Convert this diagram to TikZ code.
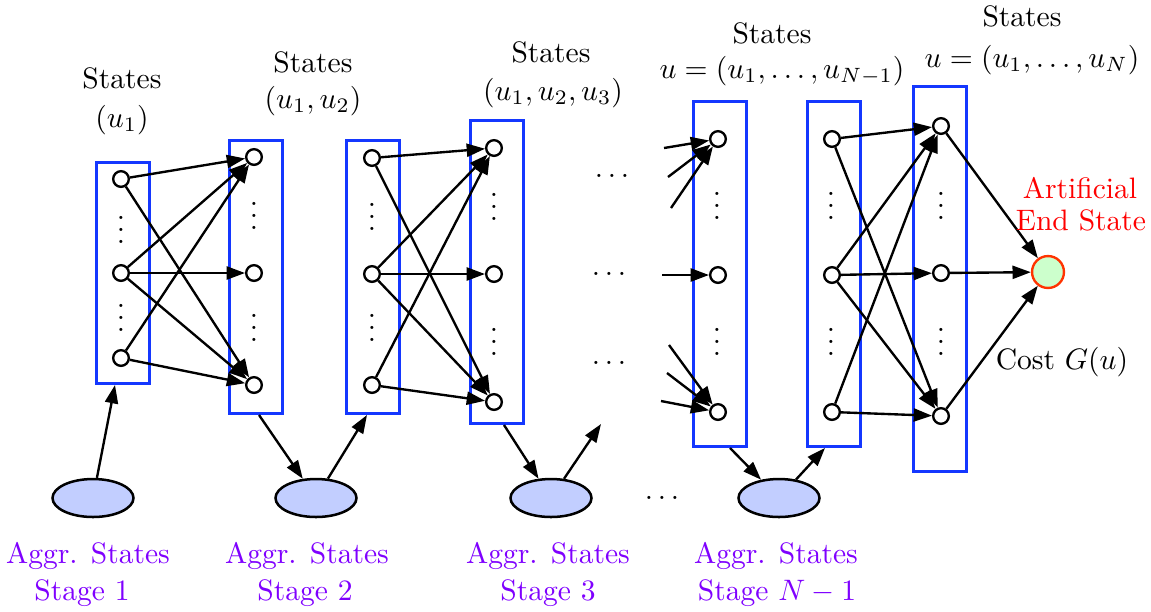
\documentclass[tikz,border=0pt]{standalone}
\usetikzlibrary{arrows.meta,shapes.geometric,calc}
\definecolor{boxblue}{RGB}{20,55,255}
\definecolor{aggrfill}{RGB}{194,206,255}
\definecolor{aggrtext}{RGB}{127,0,255}
\definecolor{endfill}{RGB}{204,255,204}
\definecolor{endline}{RGB}{255,51,0}
\newcommand\myvd{\vbox{\baselineskip=4pt\lineskiplimit=0pt\hbox{.}\hbox{.}\hbox{.}}}
\begin{document}
\begin{tikzpicture}[x=0.3382pt,y=-0.3382pt,
  st/.style={circle,draw,line width=0.8pt,minimum size=5.3pt,inner sep=0pt,fill=white},
  sbox/.style={draw=boxblue,line width=1pt,minimum width=17.9pt,inner sep=0pt},
  agg/.style={ellipse,draw,line width=0.85pt,fill=aggrfill,minimum width=27.4pt,minimum height=12.85pt,inner sep=0pt},
  arr/.style={-{Triangle[length=6.2pt,width=4.4pt]},line width=0.8pt},
  txt/.style={inner sep=0pt,anchor=base},
  dts/.style={inner sep=0pt}]
\useasboundingbox (0,0) rectangle (1151,611);
% boxes
\node[sbox,minimum height=74.74pt] (b1) at (123,273) {};
\node[sbox,minimum height=92.33pt] (b2) at (256,277) {};
\node[sbox,minimum height=92.33pt] (b3) at (373,277) {};
\node[sbox,minimum height=102.47pt] (b4) at (497,272) {};
\node[sbox,minimum height=116.68pt] (b5) at (720,274) {};
\node[sbox,minimum height=116.68pt] (b6) at (834,274) {};
\node[sbox,minimum height=130.2pt] (b7) at (940,279) {};
% state nodes
\node[st] (n1-a) at (121,179) {};
\node[st] (n1-b) at (121,273) {};
\node[st] (n1-c) at (121,358) {};
\node[st] (n2-a) at (254,157) {};
\node[st] (n2-b) at (254,273) {};
\node[st] (n2-c) at (254,385) {};
\node[st] (n3-a) at (372,158) {};
\node[st] (n3-b) at (372,274) {};
\node[st] (n3-c) at (372,385) {};
\node[st] (n4-a) at (494,148) {};
\node[st] (n4-b) at (494,274) {};
\node[st] (n4-c) at (494,402) {};
\node[st] (n5-a) at (718,139) {};
\node[st] (n5-b) at (718,275) {};
\node[st] (n5-c) at (718,412) {};
\node[st] (n6-a) at (832,139) {};
\node[st] (n6-b) at (832,275) {};
\node[st] (n6-c) at (832,412) {};
\node[st] (n7-a) at (941,126) {};
\node[st] (n7-b) at (941,273) {};
\node[st] (n7-c) at (941,416) {};
\node[circle,draw=endline,fill=endfill,line width=0.8pt,minimum size=10.8pt,inner sep=0pt] (end) at (1048,272) {};
% vertical dots
\foreach \x/\ya/\yb [count=\i] in {121/230/318,254/216/328,372/217/328,494/207/342,717/206/342,831/206/342,941/206/342}{
  \node[dts] (vd\i-a) at (\x,\ya) {\myvd};
  \node[dts] (vd\i-b) at (\x,\yb) {\myvd};
}
% edges between stages
\foreach \s/\t in {1/2,3/4,6/7}{
  \draw[arr] (n\s-a) -- (n\t-a);
  \draw[arr] (n\s-a) -- (n\t-c);
  \draw[arr] (n\s-b) -- (n\t-a);
  \draw[arr] (n\s-b) -- (n\t-b);
  \draw[arr] (n\s-b) -- (n\t-c);
  \draw[arr] (n\s-c) -- (n\t-a);
  \draw[arr] (n\s-c) -- (n\t-c);
}
\draw[arr] (n7-a) -- (end);
\draw[arr] (n7-b) -- (end);
\draw[arr] (n7-c) -- (end);
% incoming free arrows to stage N-1
\coordinate (f1) at (664,148);
\coordinate (f2) at (668,177);
\coordinate (f3) at (671,208);
\coordinate (f4) at (662,275);
\coordinate (f5) at (669,345);
\coordinate (f6) at (667,373);
\coordinate (f7) at (661,401);
\draw[arr] (f1) -- (n5-a);
\draw[arr] (f2) -- (n5-a);
\draw[arr] (f3) -- (n5-a);
\draw[arr] (f4) -- (n5-b);
\draw[arr] (f5) -- (n5-c);
\draw[arr] (f6) -- (n5-c);
\draw[arr] (f7) -- (n5-c);
% horizontal dots
\node[dts] (hd1) at (612,176) {$\ldots$};
\node[dts] (hd2) at (609,274) {$\ldots$};
\node[dts] (hd3) at (609,363) {$\ldots$};
\node[dts] (hd4) at (662,498) {$\ldots$};
% aggregate states
\node[agg] (e1) at (93,498) {};
\node[agg] (e2) at (316,498) {};
\node[agg] (e3) at (551,498) {};
\node[agg] (e4) at (779,498) {};
\coordinate (fe) at (601,424);
\draw[arr] (e1) -- ($(b1.south)+(-8,0)$);
\draw[arr] ($(b2.south)+(3,0)$) -- (e2);
\draw[arr] (e2) -- ($(b3.south)+(-6,0)$);
\draw[arr] ($(b4.south)+(7,0)$) -- (e3);
\draw[arr] (e3) -- (fe);
\draw[arr] ($(b5.south)+(10,0)$) -- (e4);
\draw[arr] (e4) -- ($(b6.south)+(-9,0)$);
% headings
\node[txt] (h1s) at (122,88) {States};
\node[txt] (h1u) at (122,127) {$(u_1)$};
\node[txt] (h2s) at (313,72) {States};
\node[txt] (h2u) at (313,108) {$(u_1,u_2)$};
\node[txt] (h3s) at (551,62) {States};
\node[txt] (h3u) at (553,100) {$(u_1,u_2,u_3)$};
\node[txt] (h5s) at (772,43) {States};
\node[txt] (h5u) at (782,78) {$u=(u_1,\ldots,u_{N-1})$};
\node[txt] (h7s) at (1022,26) {States};
\node[txt] (h7u) at (1032,67) {$u=(u_1,\ldots,u_N)$};
\node[txt,text=red] (ae1) at (1080,198) {Artificial};
\node[txt,text=red] (ae2) at (1081,230) {End State};
\node[txt] (cost) at (1062,369) {Cost $G(u)$};
% aggregate labels
\node[txt,text=aggrtext] (l1a) at (88,563) {Aggr. States};
\node[txt,text=aggrtext] (l1b) at (82,600) {Stage 1};
\node[txt,text=aggrtext] (l2a) at (307,563) {Aggr. States};
\node[txt,text=aggrtext] (l2b) at (305,600) {Stage 2};
\node[txt,text=aggrtext] (l3a) at (548,563) {Aggr. States};
\node[txt,text=aggrtext] (l3b) at (548,600) {Stage 3};
\node[txt,text=aggrtext] (l4a) at (776,563) {Aggr. States};
\node[txt,text=aggrtext] (l4b) at (777,600) {Stage $N-1$};
\end{tikzpicture}
\end{document}
